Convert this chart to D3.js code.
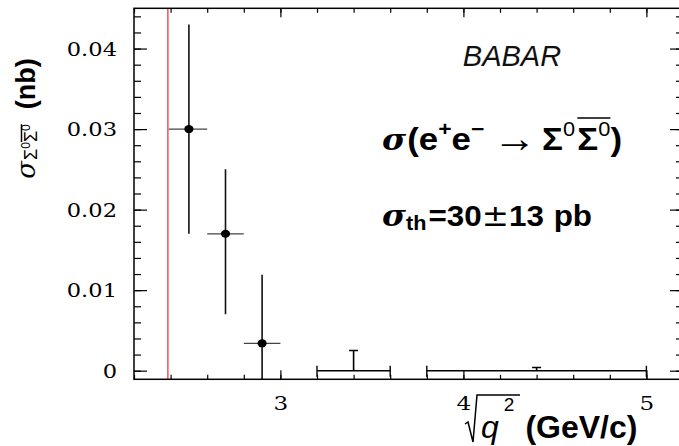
<!DOCTYPE html>
<html>
<head>
<meta charset="utf-8">
<script src="https://cdn.jsdelivr.net/npm/d3@7"></script>
<style>
  body { margin: 0; background: #fff; }
  svg { display: block; }
</style>
</head>
<body>
<script>
// e+e- -> Sigma0 Sigma0bar cross section (nb) versus sqrt(q^2) (GeV/c)
const binCenter = [2.5, 2.7, 2.9];
const binLow    = [2.39, 2.6, 2.8];
const binHigh   = [2.6, 2.8, 3.0];
const sigmaNb   = [0.030, 0.017, 0.0034];
const errUp     = [0.013, 0.008, 0.0085];
const errDown   = [0.013, 0.010, 0.0085];

// bins with no signal: zero value with an upper error only
const zeroCenter = [3.4, 4.4];
const zeroLow    = [3.2, 3.8];
const zeroHigh   = [3.6, 5.0];
const zeroErrUp  = [0.0025, 0.0004];

const threshold = 2.385;          // 2 m(Sigma0), GeV/c^2
const xTickValues = [3, 4, 5];
const yTickValues = [0, 0.01, 0.02, 0.03, 0.04];
const yTickLabels = ["0", "0.01", "0.02", "0.03", "0.04"];

const W = 679, H = 446;
const SANS = "'Liberation Sans', Arial, sans-serif";
const DEJA = "'DejaVu Sans', sans-serif";
const SERIF = "'DejaVu Serif', serif";
const LSERIF = "'Liberation Serif', serif";

const svg = d3.select("body").append("svg").attr("width", W).attr("height", H);
svg.append("rect").attr("width", W).attr("height", H).attr("fill", "#fff");

const x = d3.scaleLinear().domain([2.2, 5.2]).range([134, 683]);
const y = d3.scaleLinear().domain([-0.00107, 0.045]).range([379.3, 8.3]);
const [x0, x1] = x.range();
const [yb, yt] = y.range();

svg.append("clipPath").attr("id", "plotClip")
  .append("rect").attr("x", x0).attr("y", yt).attr("width", x1 - x0).attr("height", yb - yt);

// ---- axes: major and minor ticks on all four sides, pointing inward ----
const xMinor = d3.range(2.2, 5.2001, 0.2);
const yMinor = d3.range(0, 0.0451, 0.002);

function styleAxis(g) {
  g.select(".domain").remove();
  g.selectAll(".tick line").attr("stroke", "#000").attr("stroke-width", 1.2);
}
function widen(sel, sx) {
  sel.each(function () {
    const t = d3.select(this);
    const tx = +t.attr("x") || 0, ty = +t.attr("y") || 0;
    t.attr("x", 0).attr("y", 0).attr("transform", `translate(${tx},${ty}) scale(${sx},1)`);
  });
}

svg.append("g").attr("transform", `translate(0,${yb})`)
  .call(d3.axisBottom(x).tickValues(xMinor).tickSize(-4.5).tickFormat(""))
  .call(styleAxis);
svg.append("g").attr("transform", `translate(0,${yt})`)
  .call(d3.axisTop(x).tickValues(xMinor).tickSize(-4.5).tickFormat(""))
  .call(styleAxis);
svg.append("g").attr("transform", `translate(0,${yt})`)
  .call(d3.axisTop(x).tickValues(xTickValues).tickSize(-9).tickFormat(""))
  .call(styleAxis);
const xAx = svg.append("g").attr("transform", `translate(0,${yb})`)
  .call(d3.axisBottom(x).tickValues(xTickValues).tickSizeInner(-9).tickSizeOuter(0)
        .tickPadding(17.5).tickFormat(d3.format("d")))
  .call(styleAxis);
xAx.selectAll("text").style("font-family", SERIF).style("font-size", "18.5px")
  .attr("fill", "#000").call(widen, 1.25);

svg.append("g").attr("transform", `translate(${x0},0)`)
  .call(d3.axisLeft(y).tickValues(yMinor).tickSize(-7).tickFormat(""))
  .call(styleAxis);
svg.append("g").attr("transform", `translate(${x1},0)`)
  .call(d3.axisRight(y).tickValues(yMinor).tickSize(-7).tickFormat(""))
  .call(styleAxis);
svg.append("g").attr("transform", `translate(${x1},0)`)
  .call(d3.axisRight(y).tickValues(yTickValues).tickSize(-13).tickFormat(""))
  .call(styleAxis);
const yAx = svg.append("g").attr("transform", `translate(${x0},0)`)
  .call(d3.axisLeft(y).tickValues(yTickValues).tickSizeInner(-13).tickSizeOuter(0)
        .tickPadding(17).tickFormat((d, i) => yTickLabels[i]))
  .call(styleAxis);
yAx.selectAll("text")
  .style("font-family", SERIF).style("font-size", "18.5px").attr("fill", "#000")
  .attr("dy", "0.36em")
  .call(widen, 1.22);

// ---- threshold line ----
svg.append("line")
  .attr("x1", x(threshold)).attr("x2", x(threshold))
  .attr("y1", yt).attr("y2", yb)
  .attr("stroke", "#ef5f5f").attr("stroke-width", 1.6);

// ---- data points with errors ----
const plot = svg.append("g").attr("clip-path", "url(#plotClip)");
const pts = binCenter.map((c, i) => ({
  c, lo: binLow[i], hi: binHigh[i], v: sigmaNb[i], up: errUp[i], dn: errDown[i]
}));

plot.selectAll(".xerr").data(pts).join("line")
  .attr("x1", d => x(d.lo)).attr("x2", d => x(d.hi))
  .attr("y1", d => y(d.v)).attr("y2", d => y(d.v))
  .attr("stroke", "#444").attr("stroke-width", 1.2);
plot.selectAll(".yerr").data(pts).join("line")
  .attr("x1", d => x(d.c)).attr("x2", d => x(d.c))
  .attr("y1", d => y(d.v + d.up)).attr("y2", d => y(d.v - d.dn))
  .attr("stroke", "#111").attr("stroke-width", 1.6);
plot.selectAll(".dot").data(pts).join("ellipse")
  .attr("cx", d => x(d.c)).attr("cy", d => y(d.v))
  .attr("rx", 4.6).attr("ry", 4).attr("fill", "#000");

// zero-valued bins: horizontal bar with end caps, upper error with a cap
const zeros = zeroCenter.map((c, i) => ({ c, lo: zeroLow[i], hi: zeroHigh[i], up: zeroErrUp[i] }));
const zg = plot.selectAll(".zero").data(zeros).join("g");
zg.append("line")
  .attr("x1", d => x(d.lo)).attr("x2", d => x(d.hi))
  .attr("y1", y(0)).attr("y2", y(0))
  .attr("stroke", "#000").attr("stroke-width", 1.4);
zg.append("line")
  .attr("x1", d => x(d.lo)).attr("x2", d => x(d.lo))
  .attr("y1", y(0) - 5).attr("y2", y(0) + 6)
  .attr("stroke", "#000").attr("stroke-width", 1.4);
zg.append("line")
  .attr("x1", d => x(d.hi)).attr("x2", d => x(d.hi))
  .attr("y1", y(0) - 5).attr("y2", y(0) + 6)
  .attr("stroke", "#000").attr("stroke-width", 1.4);
zg.append("line")
  .attr("x1", d => x(d.c)).attr("x2", d => x(d.c))
  .attr("y1", y(0)).attr("y2", d => y(d.up))
  .attr("stroke", "#000").attr("stroke-width", 1.6);
zg.append("line")
  .attr("x1", d => x(d.c) - 4.5).attr("x2", d => x(d.c) + 4.5)
  .attr("y1", d => y(d.up)).attr("y2", d => y(d.up))
  .attr("stroke", "#000").attr("stroke-width", 1.4);

// ---- frame ----
svg.append("rect").attr("x", x0).attr("y", yt)
  .attr("width", x1 - x0).attr("height", yb - yt)
  .attr("fill", "none").attr("stroke", "#000").attr("stroke-width", 1.5);

// ---- rich text helper: lays out pieces left to right, supports overlines ----
function rich(parent, parts) {
  const outer = parent.append("g");
  const g = outer.append("g");
  let cx = 0;
  const groups = {};
  parts.forEach(p => {
    if (p.gap !== undefined) { cx += p.gap; return; }
    const t = g.append("text")
      .attr("x", cx).attr("y", p.dy || 0)
      .style("font-family", p.ff || SANS)
      .style("font-size", p.fs + "px")
      .style("font-weight", p.fw || "bold")
      .style("font-style", p.fi || "normal")
      .attr("fill", "#000")
      .text(p.t);
    const w = t.node().getComputedTextLength();
    if (p.ol) {
      const o = groups[p.ol] || (groups[p.ol] = { a: cx, b: cx + w, y: p.olY });
      o.a = Math.min(o.a, cx); o.b = Math.max(o.b, cx + w);
    }
    cx += w + (p.after || 0);
  });
  Object.values(groups).forEach(o => {
    g.append("line").attr("x1", o.a).attr("x2", o.b).attr("y1", o.y).attr("y2", o.y)
      .attr("stroke", "#000").attr("stroke-width", 1.5);
  });
  return { outer, g, width: cx };
}

// BABAR tag
svg.append("text").attr("x", 512).attr("y", 66).attr("text-anchor", "middle")
  .style("font-family", SANS).style("font-style", "italic").style("font-size", "29px")
  .attr("fill", "#111").text("BABAR");

// process line
const proc = rich(svg, [
  { t: "σ", fs: 30, ff: SERIF, fi: "italic", after: 1 },
  { t: "(", fs: 32 },
  { t: "e", fs: 32 },
  { t: "+", fs: 21, dy: -14 },
  { t: "e", fs: 32 },
  { t: "−", fs: 21, dy: -14 },
  { gap: 8 },
  { t: "→", fs: 40, ff: LSERIF, fw: "normal", dy: 2 },
  { gap: 5 },
  { t: "Σ", fs: 32 },
  { t: "0", fs: 20, dy: -14, fw: "normal", after: 2 },
  { t: "Σ", fs: 32, ol: "bar", olY: -32 },
  { t: "0", fs: 20, dy: -14, fw: "normal", ol: "bar", olY: -32 },
  { t: ")", fs: 32 }
]);
proc.g.attr("transform", `scale(${240 / proc.width},1)`);
proc.outer.attr("transform", "translate(382,150)");

// theory value line
const th = rich(svg, [
  { t: "σ", fs: 30, ff: SERIF, fi: "italic" },
  { t: "th", fs: 20, dy: 4, after: 2 },
  { t: "=", fs: 29 },
  { t: "30", fs: 29 },
  { t: "±", fs: 30, ff: DEJA, fw: "normal" },
  { t: "13", fs: 29 },
  { gap: 9 },
  { t: "pb", fs: 29 }
]);
th.g.attr("transform", `scale(${210 / th.width},1)`);
th.outer.attr("transform", "translate(382,226)");

// y-axis title (rotated)
const yTitle = rich(svg, [
  { t: "σ", fs: 26, ff: SERIF, fi: "italic", fw: "normal", after: 1 },
  { t: "Σ", fs: 18, dy: 2, fw: "normal" },
  { t: "0", fs: 12, dy: -5, fw: "normal" },
  { t: "Σ", fs: 18, dy: 2, fw: "normal", ol: "bar", olY: -13.5 },
  { t: "0", fs: 12, dy: -5, fw: "normal", ol: "bar", olY: -13.5 },
  { gap: 15 },
  { t: "(nb)", fs: 27 }
]);
yTitle.outer.attr("transform", `translate(35,${118.5 + yTitle.width / 2}) rotate(-90)`);

// x-axis title with a radical sign
const xTitle = rich(svg, [
  { gap: 16 },
  { t: "q", fs: 32, fi: "italic", fw: "normal", after: 5 },
  { t: "2", fs: 19, dy: -27, fw: "normal" },
  { gap: 11 },
  { t: "(GeV/c)", fs: 32 }
]);
xTitle.outer.attr("transform", "translate(465,438)");
xTitle.g.append("path")
  .attr("d", "M0,-14 L3,-16 L8,4 L12,-43 L55,-43")
  .attr("fill", "none").attr("stroke", "#000").attr("stroke-width", 1.5);
</script>
</body>
</html>
